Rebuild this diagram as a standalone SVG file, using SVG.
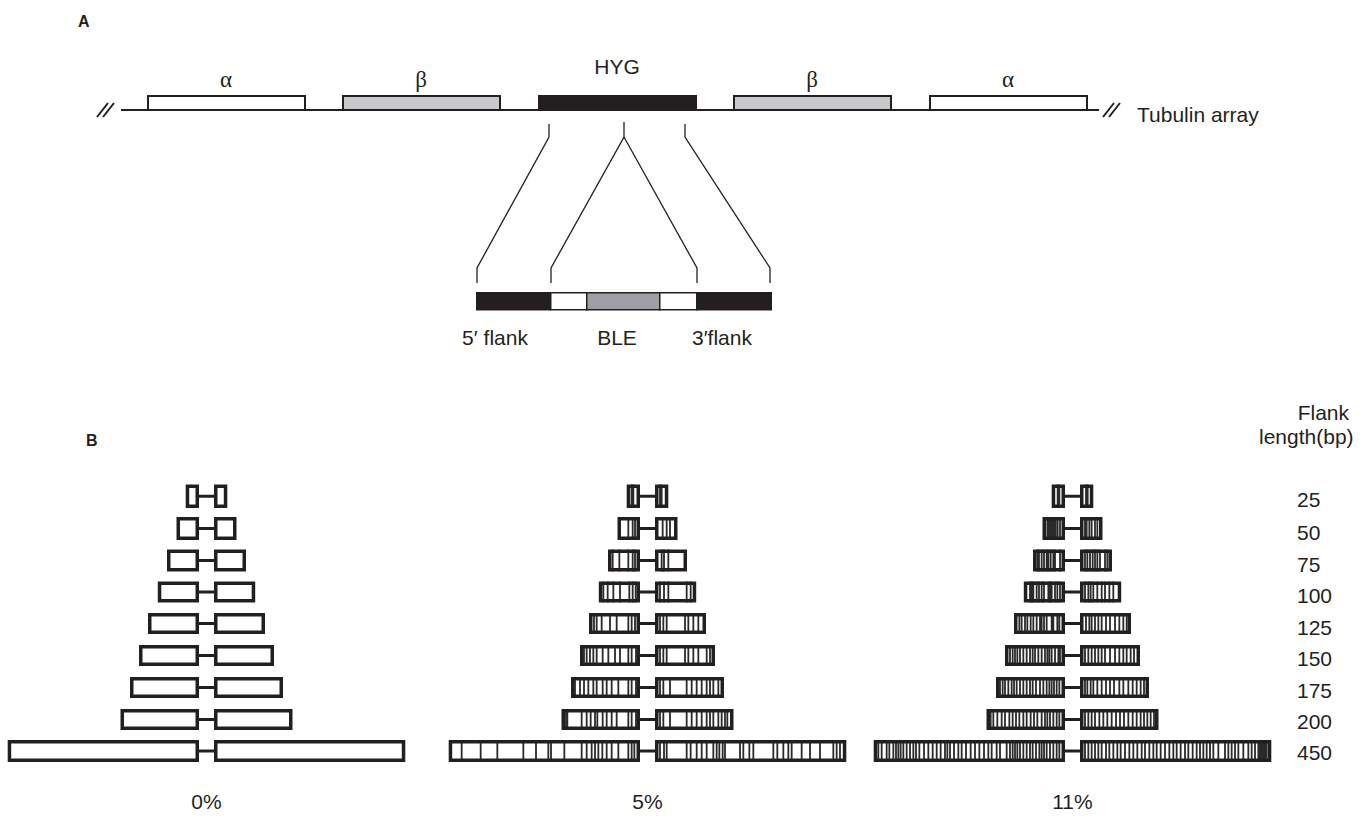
<svg xmlns="http://www.w3.org/2000/svg" xmlns:xlink="http://www.w3.org/1999/xlink" width="1364" height="816" viewBox="0 0 1364 816">
  <style>
    .lbl{font-family:"Liberation Sans",Arial,Helvetica,sans-serif;font-size:21px;fill:#231f20}
    .greek{font-family:"Liberation Serif","Times New Roman",serif;font-size:23px;fill:#231f20}
    .panel{font-family:"Liberation Sans",Arial,sans-serif;font-size:16px;font-weight:bold;fill:#231f20}
    .mid{text-anchor:middle}
    .gene{stroke:#231f20;stroke-width:2}
    .axis{stroke:#231f20;stroke-width:2;fill:none}
    .fan{stroke:#231f20;stroke-width:1.3;fill:none}
    .seg{stroke:#231f20;stroke-width:1.5}
    .flank{fill:none;stroke:#231f20;stroke-width:3.5}
    .link{stroke:#231f20;stroke-width:3}
    /* hatch groups are drawn on a 3x horizontal grid, so 5.4 units = 1.8px */
    .hatch{stroke:#2a2a2a;stroke-width:5.4;fill:none}
  </style>

  <defs>
    <!-- one construct per flank length: two flank boxes joined by a short link -->
    <g id="c25"><rect class="flank" x="187.45" y="486.25" width="9.8" height="20"/><rect class="flank" x="215.75" y="486.25" width="9.8" height="20"/><line class="link" x1="198" y1="496.25" x2="215" y2="496.25"/></g>
    <g id="c50"><rect class="flank" x="178.25" y="518.75" width="19" height="19.5"/><rect class="flank" x="215.75" y="518.75" width="19" height="19.5"/><line class="link" x1="198" y1="528.5" x2="215" y2="528.5"/></g>
    <g id="c75"><rect class="flank" x="168.75" y="551.25" width="28.5" height="18.5"/><rect class="flank" x="215.75" y="551.25" width="28.5" height="18.5"/><line class="link" x1="198" y1="560.5" x2="215" y2="560.5"/></g>
    <g id="c100"><rect class="flank" x="159.55" y="583.25" width="37.7" height="17.5"/><rect class="flank" x="215.75" y="583.25" width="37.7" height="17.5"/><line class="link" x1="198" y1="592" x2="215" y2="592"/></g>
    <g id="c125"><rect class="flank" x="149.75" y="614.75" width="47.5" height="17.5"/><rect class="flank" x="215.75" y="614.75" width="47.5" height="17.5"/><line class="link" x1="198" y1="623.5" x2="215" y2="623.5"/></g>
    <g id="c150"><rect class="flank" x="140.75" y="646.75" width="56.5" height="17.5"/><rect class="flank" x="215.75" y="646.75" width="56.5" height="17.5"/><line class="link" x1="198" y1="655.5" x2="215" y2="655.5"/></g>
    <g id="c175"><rect class="flank" x="131.75" y="678.75" width="65.5" height="17.5"/><rect class="flank" x="215.75" y="678.75" width="65.5" height="17.5"/><line class="link" x1="198" y1="687.5" x2="215" y2="687.5"/></g>
    <g id="c200"><rect class="flank" x="122.25" y="710.75" width="75" height="17.5"/><rect class="flank" x="215.75" y="710.75" width="75" height="17.5"/><line class="link" x1="198" y1="719.5" x2="215" y2="719.5"/></g>
    <g id="c450"><rect class="flank" x="9.45" y="741.75" width="187.8" height="18.5"/><rect class="flank" x="215.75" y="741.75" width="187.8" height="18.5"/><line class="link" x1="198" y1="751" x2="215" y2="751"/></g>
  </defs>

  <rect width="1364" height="816" fill="#ffffff"/>

  <!-- ===== Panel A: tubulin array with HYG insertion ===== -->
  <text class="panel" x="78" y="27">A</text>

  <g id="tubulin-array">
    <line class="axis" x1="121" y1="110" x2="1099" y2="110"/>
    <path class="axis" d="M97 117L108 103M103 117L114 103M1103 117L1114 103M1109 117L1120 103"/>
    <text class="lbl" x="1137" y="122">Tubulin array</text>
  </g>

  <g id="alpha-left">
    <rect class="gene" x="148" y="96" width="157" height="14" fill="#ffffff"/>
    <text class="greek mid" x="226" y="87">α</text>
  </g>
  <g id="beta-left">
    <rect class="gene" x="343" y="96" width="157" height="14" fill="#c8c9cb"/>
    <text class="greek mid" x="421" y="87">β</text>
  </g>
  <g id="hyg">
    <rect class="gene" x="539" y="96" width="157" height="14" fill="#231f20"/>
    <text class="lbl mid" x="617" y="74">HYG</text>
  </g>
  <g id="beta-right">
    <rect class="gene" x="734" y="96" width="157" height="14" fill="#c8c9cb"/>
    <text class="greek mid" x="812" y="87">β</text>
  </g>
  <g id="alpha-right">
    <rect class="gene" x="930" y="96" width="157" height="14" fill="#ffffff"/>
    <text class="greek mid" x="1008" y="87">α</text>
  </g>

  <!-- expansion lines from the HYG cassette down to its detailed map -->
  <g id="connectors">
    <path class="fan" d="M549 124V137L477 268V283"/>
    <path class="fan" d="M624 122V137L551 268V283"/>
    <path class="fan" d="M624 137L697 268V283"/>
    <path class="fan" d="M685 124V137L770 268V283"/>
  </g>

  <g id="cassette">
    <rect class="seg" x="476.75" y="292.75" width="73.5" height="17" fill="#231f20"/>
    <rect class="seg" x="550.75" y="292.75" width="36" height="17" fill="#ffffff"/>
    <rect class="seg" x="586.75" y="292.75" width="73" height="17" fill="#9d9fa2"/>
    <rect class="seg" x="659.75" y="292.75" width="37" height="17" fill="#ffffff"/>
    <rect class="seg" x="696.75" y="292.75" width="74.5" height="17" fill="#231f20"/>
    <text class="lbl mid" x="495" y="345">5′ flank</text>
    <text class="lbl mid" x="617" y="345">BLE</text>
    <text class="lbl mid" x="722" y="345">3′flank</text>
  </g>

  <!-- ===== Panel B: flank-length series at 0%, 5% and 11% divergence ===== -->
  <text class="panel" x="86" y="446">B</text>

  <g id="axis-labels">
    <text class="lbl" x="1349" y="420" text-anchor="end">Flank</text>
    <text class="lbl" x="1259" y="444">length(bp)</text>
    <text class="lbl" x="1297" y="507">25</text>
    <text class="lbl" x="1297" y="540">50</text>
    <text class="lbl" x="1297" y="571.5">75</text>
    <text class="lbl" x="1297" y="603">100</text>
    <text class="lbl" x="1297" y="635">125</text>
    <text class="lbl" x="1297" y="666">150</text>
    <text class="lbl" x="1297" y="697.5">175</text>
    <text class="lbl" x="1297" y="729">200</text>
    <text class="lbl" x="1297" y="760">450</text>
    <text class="lbl mid" x="206.5" y="809">0%</text>
    <text class="lbl mid" x="647.5" y="809">5%</text>
    <text class="lbl mid" x="1072.5" y="809">11%</text>
  </g>

  <!-- 0% : identical flanks -->
  <g id="pct0">
    <g id="pct0-bp25"><use xlink:href="#c25"/></g>
    <g id="pct0-bp50"><use xlink:href="#c50"/></g>
    <g id="pct0-bp75"><use xlink:href="#c75"/></g>
    <g id="pct0-bp100"><use xlink:href="#c100"/></g>
    <g id="pct0-bp125"><use xlink:href="#c125"/></g>
    <g id="pct0-bp150"><use xlink:href="#c150"/></g>
    <g id="pct0-bp175"><use xlink:href="#c175"/></g>
    <g id="pct0-bp200"><use xlink:href="#c200"/></g>
    <g id="pct0-bp450"><use xlink:href="#c450"/></g>
  </g>

  <!-- 5% : mismatch ticks -->
  <g class="hatch" transform="translate(440 0) scale(0.333333 1)">
    <path transform="translate(0 484.5)" d="M575 0v23.5M580 0v23.5M660 0v23.5M665 0v23.5"/>
    <path transform="translate(0 517)" d="M565 0v23M578 0v23M585 0v23M668 0v23M680 0v23M690 0v23"/>
    <path transform="translate(0 549.5)" d="M518 0v22M538 0v22M565 0v22M578 0v22M585 0v22M665 0v22M672 0v22M685 0v22"/>
    <path transform="translate(0 581.5)" d="M490 0v21M503 0v21M520 0v21M540 0v21M568 0v21M578 0v21M587 0v21M660 0v21M672 0v21M685 0v21M740 0v21M752 0v21"/>
    <path transform="translate(0 613)" d="M462 0v21M470 0v21M485 0v21M510 0v21M530 0v21M565 0v21M575 0v21M585 0v21M660 0v21M670 0v21M680 0v21M735 0v21M745 0v21M760 0v21M775 0v21"/>
    <path transform="translate(0 645)" d="M432 0v21M440 0v21M450 0v21M460 0v21M470 0v21M488 0v21M505 0v21M525 0v21M540 0v21M565 0v21M575 0v21M588 0v21M660 0v21M670 0v21M680 0v21M735 0v21M745 0v21M760 0v21M775 0v21M800 0v21M810 0v21"/>
    <path transform="translate(0 677)" d="M405 0v21M420 0v21M432 0v21M445 0v21M460 0v21M470 0v21M488 0v21M500 0v21M515 0v21M535 0v21M565 0v21M575 0v21M588 0v21M660 0v21M670 0v21M690 0v21M740 0v21M755 0v21M770 0v21M785 0v21M800 0v21M810 0v21M820 0v21M835 0v21"/>
    <path transform="translate(0 709)" d="M378 0v21M382 0v21M425 0v21M440 0v21M452 0v21M465 0v21M472 0v21M488 0v21M500 0v21M515 0v21M530 0v21M565 0v21M575 0v21M588 0v21M660 0v21M670 0v21M690 0v21M740 0v21M755 0v21M770 0v21M785 0v21M800 0v21M810 0v21M820 0v21M835 0v21M845 0v21M855 0v21M862 0v21"/>
    <path transform="translate(0 740)" d="M65 0v22M122 0v22M172 0v22M250 0v22M288 0v22M325 0v22M333 0v22M373 0v22M425 0v22M440 0v22M455 0v22M465 0v22M475 0v22M487 0v22M500 0v22M515 0v22M535 0v22M565 0v22M575 0v22M583 0v22M660 0v22M672 0v22M680 0v22M740 0v22M752 0v22M770 0v22M785 0v22M800 0v22M820 0v22M830 0v22M838 0v22M848 0v22M855 0v22M900 0v22M910 0v22M928 0v22M940 0v22M1000 0v22M1012 0v22M1030 0v22M1045 0v22M1055 0v22M1085 0v22M1110 0v22M1140 0v22M1180 0v22M1190 0v22M1200 0v22"/>
  </g>
  <g id="pct5" transform="translate(441 0)">
    <g id="pct5-bp25"><use xlink:href="#c25"/></g>
    <g id="pct5-bp50"><use xlink:href="#c50"/></g>
    <g id="pct5-bp75"><use xlink:href="#c75"/></g>
    <g id="pct5-bp100"><use xlink:href="#c100"/></g>
    <g id="pct5-bp125"><use xlink:href="#c125"/></g>
    <g id="pct5-bp150"><use xlink:href="#c150"/></g>
    <g id="pct5-bp175"><use xlink:href="#c175"/></g>
    <g id="pct5-bp200"><use xlink:href="#c200"/></g>
    <g id="pct5-bp450"><use xlink:href="#c450"/></g>
  </g>

  <!-- 11% : denser mismatch ticks -->
  <g class="hatch" transform="translate(860 0) scale(0.333333 1)">
    <path transform="translate(0 484.5)" d="M593 0v23.5M598 0v23.5M678 0v23.5M683 0v23.5"/>
    <path transform="translate(0 517)" d="M562 0v23M567 0v23M572 0v23M577 0v23M582 0v23M587 0v23M593 0v23M600 0v23M675 0v23M680 0v23M688 0v23M695 0v23M705 0v23M712 0v23"/>
    <path transform="translate(0 549.5)" d="M532 0v22M537 0v22M545 0v22M552 0v22M560 0v22M565 0v22M572 0v22M580 0v22M585 0v22M600 0v22M675 0v22M682 0v22M690 0v22M698 0v22M705 0v22M712 0v22M720 0v22M735 0v22M742 0v22"/>
    <path transform="translate(0 581.5)" d="M510 0v21M515 0v21M520 0v21M530 0v21M537 0v21M545 0v21M552 0v21M565 0v21M570 0v21M575 0v21M585 0v21M592 0v21M600 0v21M675 0v21M685 0v21M692 0v21M700 0v21M712 0v21M725 0v21M735 0v21M748 0v21M760 0v21"/>
    <path transform="translate(0 613)" d="M478 0v21M485 0v21M495 0v21M502 0v21M512 0v21M520 0v21M530 0v21M540 0v21M545 0v21M552 0v21M560 0v21M575 0v21M580 0v21M592 0v21M598 0v21M678 0v21M688 0v21M695 0v21M705 0v21M715 0v21M725 0v21M738 0v21M750 0v21M765 0v21M778 0v21M790 0v21M800 0v21"/>
    <path transform="translate(0 645)" d="M450 0v21M458 0v21M465 0v21M472 0v21M480 0v21M490 0v21M500 0v21M510 0v21M518 0v21M525 0v21M535 0v21M545 0v21M555 0v21M562 0v21M568 0v21M575 0v21M585 0v21M595 0v21M600 0v21M675 0v21M685 0v21M695 0v21M705 0v21M715 0v21M725 0v21M735 0v21M750 0v21M765 0v21M778 0v21M790 0v21M800 0v21M812 0v21M822 0v21"/>
    <path transform="translate(0 677)" d="M420 0v21M428 0v21M435 0v21M445 0v21M455 0v21M462 0v21M470 0v21M480 0v21M490 0v21M500 0v21M510 0v21M518 0v21M528 0v21M540 0v21M550 0v21M560 0v21M568 0v21M575 0v21M582 0v21M590 0v21M598 0v21M675 0v21M682 0v21M692 0v21M700 0v21M712 0v21M725 0v21M738 0v21M750 0v21M762 0v21M778 0v21M790 0v21M805 0v21M818 0v21M830 0v21M842 0v21M852 0v21"/>
    <path transform="translate(0 709)" d="M392 0v21M400 0v21M412 0v21M425 0v21M435 0v21M448 0v21M458 0v21M468 0v21M478 0v21M490 0v21M500 0v21M512 0v21M522 0v21M532 0v21M545 0v21M555 0v21M562 0v21M570 0v21M580 0v21M590 0v21M598 0v21M675 0v21M685 0v21M695 0v21M705 0v21M718 0v21M730 0v21M742 0v21M755 0v21M768 0v21M780 0v21M792 0v21M805 0v21M818 0v21M830 0v21M842 0v21M852 0v21M862 0v21M872 0v21M882 0v21"/>
    <path transform="translate(0 740)" d="M55 0v22M65 0v22M80 0v22M88 0v22M100 0v22M108 0v22M115 0v22M122 0v22M130 0v22M140 0v22M150 0v22M160 0v22M168 0v22M178 0v22M192 0v22M205 0v22M218 0v22M230 0v22M242 0v22M255 0v22M262 0v22M270 0v22M282 0v22M295 0v22M305 0v22M318 0v22M332 0v22M345 0v22M358 0v22M372 0v22M385 0v22M395 0v22M410 0v22M420 0v22M440 0v22M450 0v22M458 0v22M465 0v22M472 0v22M480 0v22M490 0v22M500 0v22M510 0v22M518 0v22M528 0v22M538 0v22M545 0v22M552 0v22M560 0v22M570 0v22M580 0v22M590 0v22M598 0v22M675 0v22M685 0v22M695 0v22M705 0v22M715 0v22M725 0v22M738 0v22M748 0v22M760 0v22M772 0v22M782 0v22M795 0v22M808 0v22M820 0v22M832 0v22M845 0v22M855 0v22M868 0v22M880 0v22M890 0v22M902 0v22M915 0v22M928 0v22M940 0v22M950 0v22M962 0v22M975 0v22M985 0v22M998 0v22M1010 0v22M1020 0v22M1030 0v22M1040 0v22M1050 0v22M1060 0v22M1075 0v22M1095 0v22M1105 0v22M1115 0v22M1125 0v22M1135 0v22M1150 0v22M1165 0v22M1175 0v22M1185 0v22M1195 0v22M1200 0v22M1205 0v22M1210 0v22M1215 0v22M1220 0v22"/>
  </g>
  <g id="pct11" transform="translate(866 0)">
    <g id="pct11-bp25"><use xlink:href="#c25"/></g>
    <g id="pct11-bp50"><use xlink:href="#c50"/></g>
    <g id="pct11-bp75"><use xlink:href="#c75"/></g>
    <g id="pct11-bp100"><use xlink:href="#c100"/></g>
    <g id="pct11-bp125"><use xlink:href="#c125"/></g>
    <g id="pct11-bp150"><use xlink:href="#c150"/></g>
    <g id="pct11-bp175"><use xlink:href="#c175"/></g>
    <g id="pct11-bp200"><use xlink:href="#c200"/></g>
    <g id="pct11-bp450"><use xlink:href="#c450"/></g>
  </g>
</svg>
